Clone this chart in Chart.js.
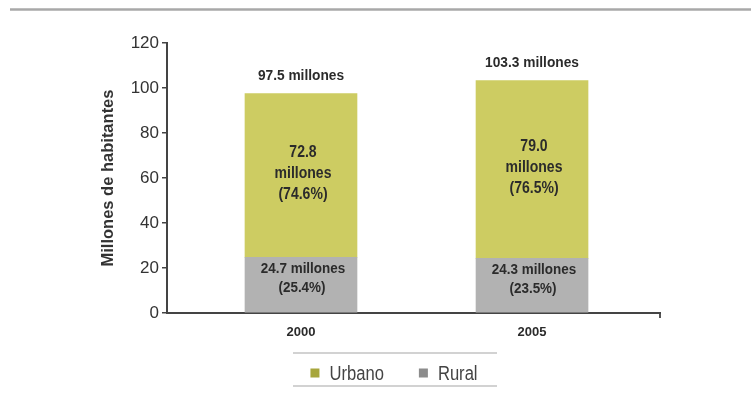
<!DOCTYPE html>
<html>
<head>
<meta charset="utf-8">
<script src="https://cdn.jsdelivr.net/npm/chart.js@4"></script>
<style>
  html, body { margin: 0; padding: 0; background: #fff; }
  #wrap { width: 751px; height: 402px; position: relative; }
</style>
</head>
<body>
<div id="wrap"><canvas id="canva"></canvas></div>
<script>
const years = ["2000", "2005"];
const urbano = [72.8, 79.0];
const rural = [24.7, 24.3];
const urbanoPct = ["74.6%", "76.5%"];
const ruralPct = ["25.4%", "23.5%"];
const yTicks = [0, 20, 40, 60, 80, 100, 120];

const FONT = "'Liberation Sans', Arial, sans-serif";
const X_MIN = -0.58;
const X_MAX = 1.554;

// draw text squeezed horizontally (narrow face look)
function narrowText(c, text, x, y, sx) {
  c.save();
  c.translate(x, y);
  c.scale(sx, 1);
  c.fillText(text, 0, 0);
  c.restore();
}

// value labels inside / above the stacked bars
const barLabels = {
  id: "barLabels",
  afterDatasetsDraw(chart) {
    const c = chart.ctx;
    c.save();
    c.fillStyle = "#2b2b2b";
    c.textAlign = "center";
    c.textBaseline = "middle";
    const ruralMeta = chart.getDatasetMeta(0);
    const urbMeta = chart.getDatasetMeta(1);
    years.forEach((yr, i) => {
      const r = ruralMeta.data[i];
      const u = urbMeta.data[i];
      c.font = "bold 14px " + FONT;
      // rural
      let mid = (r.y + r.base) / 2 - 6;
      narrowText(c, rural[i].toFixed(1) + " millones", r.x + 2, mid - 9.5, 0.96);
      narrowText(c, "(" + ruralPct[i] + ")", r.x + 1, mid + 9.5, 0.96);
      // total
      const total = urbano[i] + rural[i];
      narrowText(c, total.toFixed(1) + " millones", u.x, u.y - 17, 0.98);
      // urbano
      c.font = "bold 16.5px " + FONT;
      mid = (u.y + u.base) / 2 - 2;
      narrowText(c, urbano[i].toFixed(1), u.x + 2, mid - 21, 0.85);
      narrowText(c, "millones", u.x + 2, mid, 0.85);
      narrowText(c, "(" + urbanoPct[i] + ")", u.x + 2, mid + 21, 0.85);
    });
    c.restore();
  },
};

// rule on top and the boxed legend at the bottom
const frame = {
  id: "frame",
  afterDraw(chart) {
    const c = chart.ctx;
    c.save();
    c.strokeStyle = "#a8a8a8";
    c.lineWidth = 2.5;
    c.beginPath();
    c.moveTo(10, 9.5);
    c.lineTo(751, 9.5);
    c.stroke();

    const items = [chart.data.datasets[1], chart.data.datasets[0]];
    const sx = 0.83;
    c.font = "20px " + FONT;
    const box = 9, gap = 10, sep = 35;
    const widths = items.map((d) => box + gap + c.measureText(d.label).width * sx);
    const total = widths.reduce((a, b) => a + b, 0) + sep * (items.length - 1);
    const cy = 373;
    let x = 394 - total / 2;
    c.textBaseline = "middle";
    c.textAlign = "left";
    items.forEach((d, i) => {
      c.fillStyle = d.legendColor;
      c.fillRect(x, cy - box / 2, box, box);
      c.fillStyle = "#444";
      narrowText(c, d.label, x + box + gap, cy + 1, sx);
      x += widths[i] + sep;
    });
    c.strokeStyle = "#c4c4c4";
    c.lineWidth = 1.5;
    c.beginPath();
    c.moveTo(293, 353);
    c.lineTo(497, 353);
    c.moveTo(293, 386);
    c.lineTo(497, 386);
    c.stroke();
    c.restore();
  },
};

const ctx = document.getElementById("canva").getContext("2d");
new Chart(ctx, {
  type: "bar",
  data: {
    datasets: [
      {
        label: "Rural",
        data: rural.map((v, i) => ({ x: i, y: v })),
        backgroundColor: "#b2b2b2",
        legendColor: "#8c8c8c",
        barThickness: 112,
      },
      {
        label: "Urbano",
        data: urbano.map((v, i) => ({ x: i, y: v })),
        backgroundColor: "#cdcc62",
        legendColor: "#a7a63c",
        barThickness: 112,
      },
    ],
  },
  options: {
    responsive: true,
    maintainAspectRatio: false,
    animation: false,
    layout: { padding: { left: 95, right: 91, top: 43, bottom: 59 } },
    plugins: {
      legend: { display: false },
      tooltip: { enabled: false },
    },
    scales: {
      x: {
        type: "linear",
        stacked: true,
        offset: false,
        min: X_MIN,
        max: X_MAX,
        afterBuildTicks: (s) => {
          s.ticks = [{ value: 0 }, { value: 1 }, { value: X_MAX }];
        },
        afterFit: (s) => {
          s.height = 30;
        },
        ticks: {
          autoSkip: false,
          maxRotation: 0,
          padding: 7,
          color: "#2b2b2b",
          font: { family: FONT, size: 13, weight: "bold" },
          callback: (v) => years[v] ?? "",
        },
        grid: {
          offset: false,
          drawOnChartArea: false,
          tickLength: 5,
          lineWidth: 2,
          color: (c) => (c.tick && c.tick.value === X_MAX ? "#555" : "rgba(0,0,0,0)"),
        },
        border: { color: "#444", width: 2 },
      },
      y: {
        stacked: true,
        min: 0,
        max: 120,
        afterBuildTicks: (s) => {
          s.ticks = yTicks.map((v) => ({ value: v }));
        },
        afterFit: (s) => {
          s.width = 72;
        },
        ticks: {
          padding: 3,
          color: "#333",
          font: { family: FONT, size: 17 },
        },
        grid: {
          drawOnChartArea: false,
          tickLength: 5,
          lineWidth: 1.5,
          color: "#444",
        },
        border: { color: "#444", width: 2 },
        title: {
          display: true,
          text: "Millones de habitantes",
          color: "#333",
          font: { family: FONT, size: 16.5, weight: "bold" },
        },
      },
    },
  },
  plugins: [barLabels, frame],
});
</script>
</body>
</html>
